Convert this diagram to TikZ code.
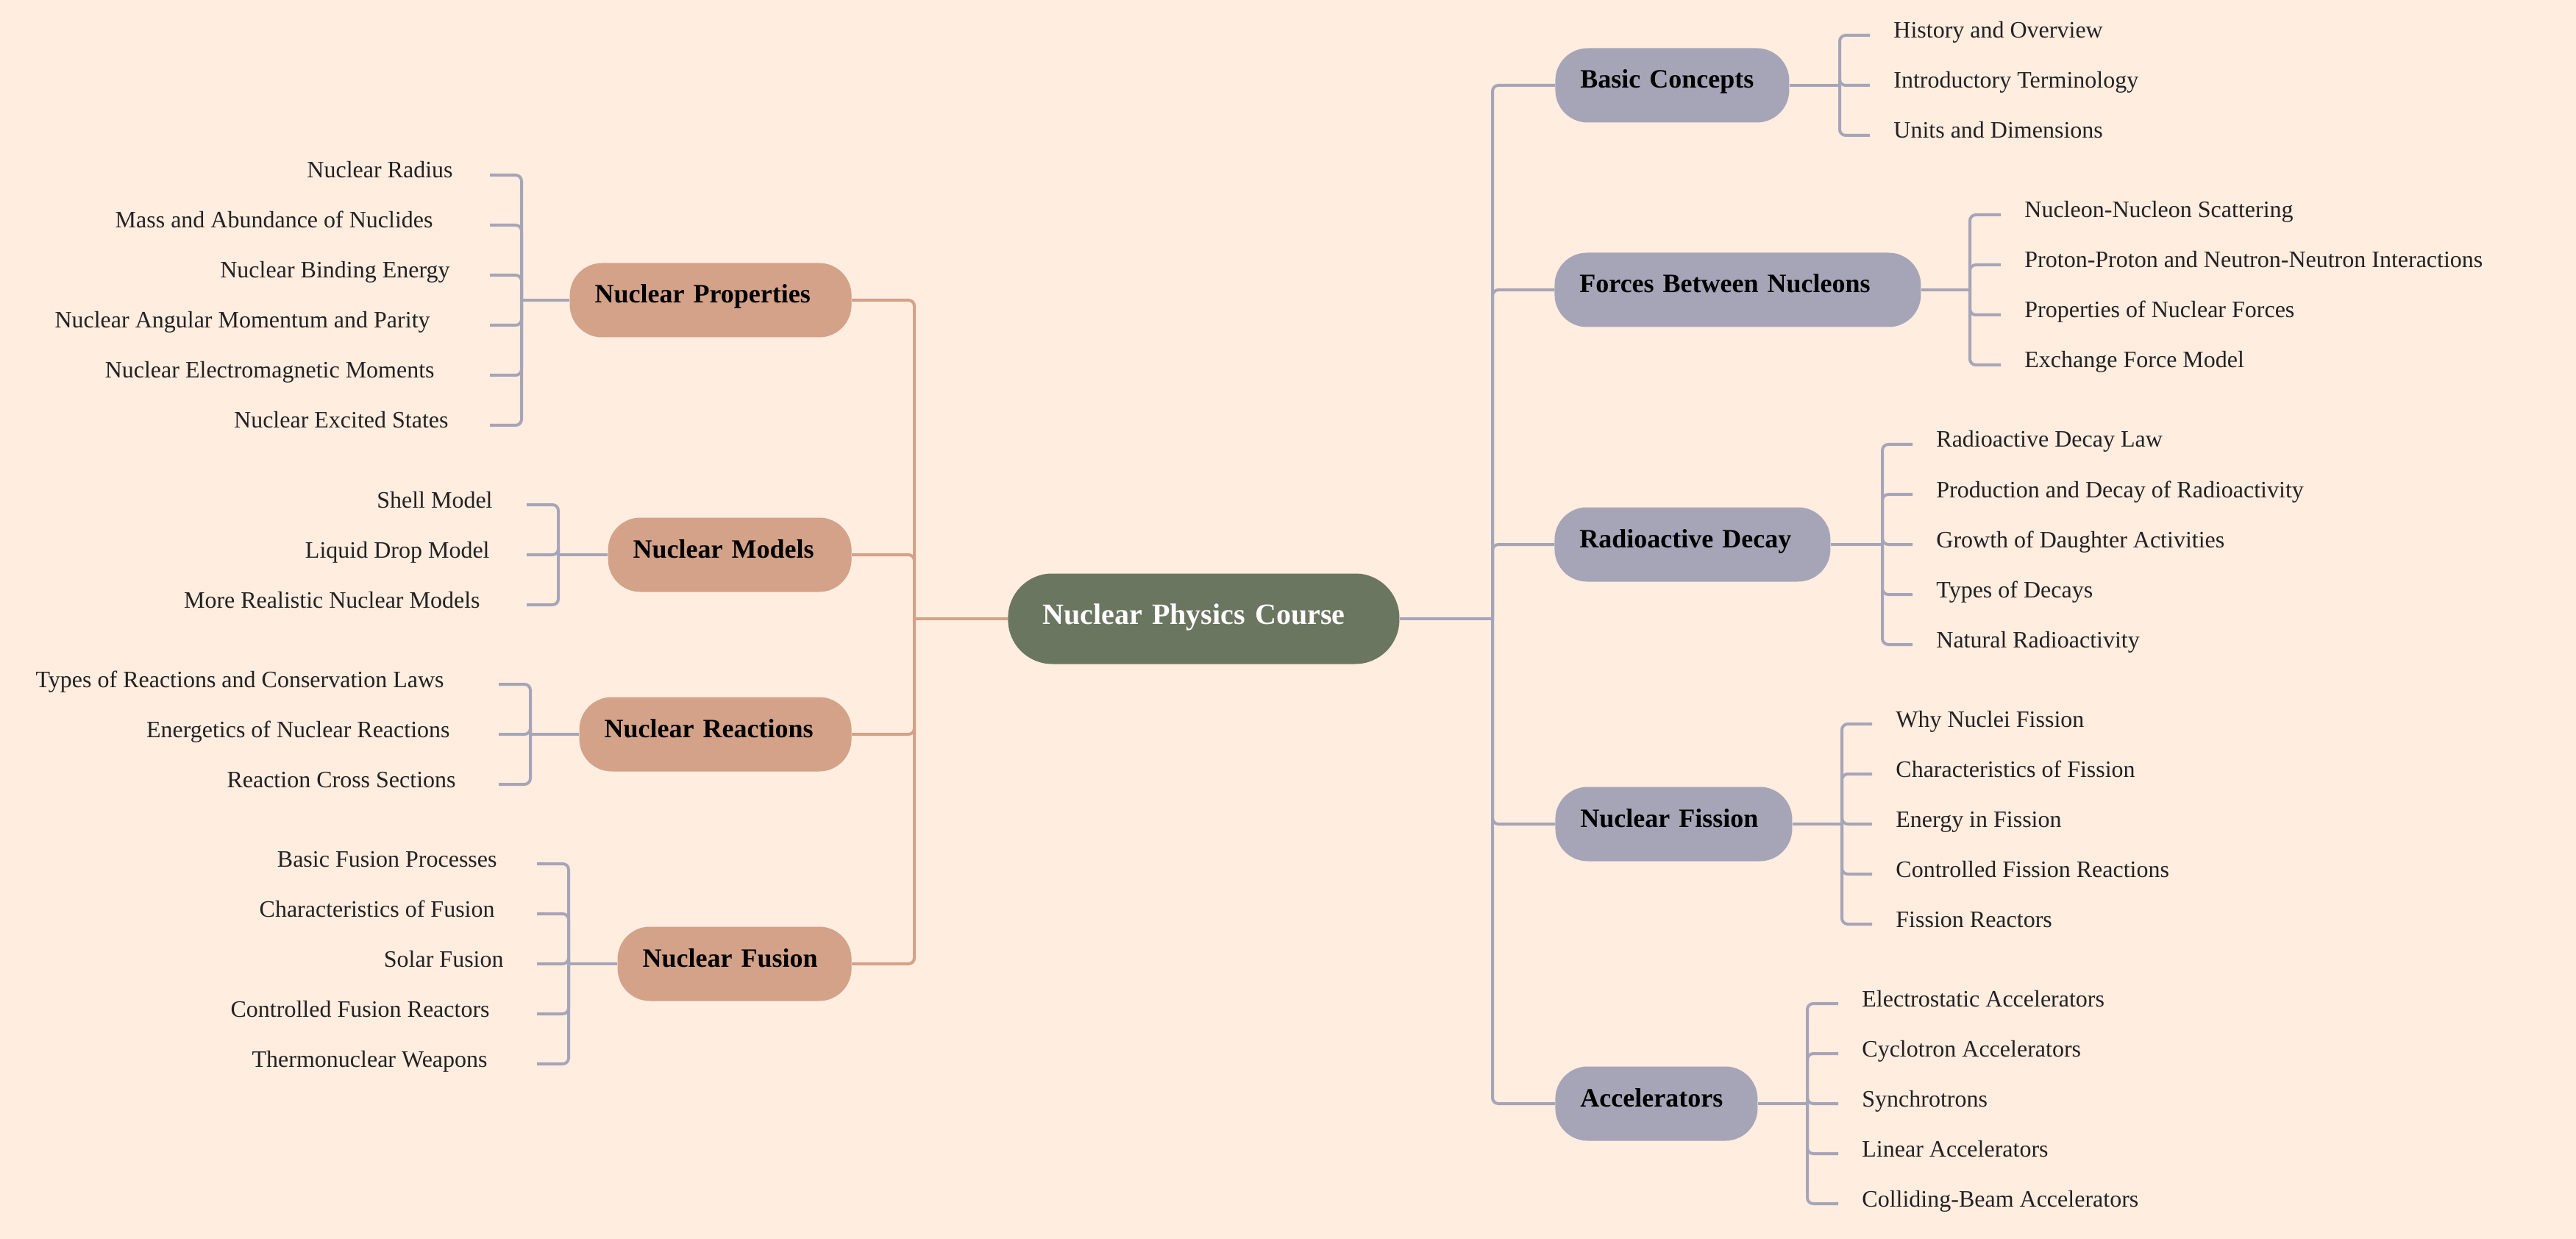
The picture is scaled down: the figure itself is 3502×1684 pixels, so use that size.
\documentclass[tikz,border=0pt]{standalone}
\usepackage{fontspec}
\setmainfont{Liberation Serif}
\definecolor{paper}{RGB}{255,237,224}
\definecolor{sage}{RGB}{107,118,96}
\definecolor{tan}{RGB}{211,162,137}
\definecolor{slate}{RGB}{166,165,184}
\definecolor{ink}{RGB}{34,34,34}
\tikzstyle{topic} = [rounded corners=22pt, minimum height=50.5pt, inner xsep=17pt, text height=12pt, text depth=8pt, align=left, font=\fontsize{18}{20}\selectfont\bfseries, text=black]

\begin{document}
\begin{tikzpicture}[x=0.5pt, y=-0.5pt,
			hub/.style = {fill=sage, text=white, rounded corners=30pt, minimum height=61.5pt, inner xsep=23.5pt, text width=219pt, text height=14pt, text depth=7pt, align=left, anchor=west, font=\fontsize{20}{22}\selectfont\bfseries},
			rbox/.style = {topic, fill=slate, anchor=west},
			lbox/.style = {topic, fill=tan, anchor=east},
			leaf/.style = {anchor=west, inner xsep=16pt, text height=10pt, text depth=6pt, text=ink, font=\fontsize{16}{18}\selectfont},
			lleaf/.style = {leaf, anchor=east, inner xsep=0pt},
			rline/.style = {draw=slate, line width=2pt, rounded corners=4pt},
			lline/.style = {draw=tan, line width=2pt, rounded corners=4pt},
			twig/.style = {draw=slate, line width=2pt, rounded corners=4pt}]
			\useasboundingbox (0,0) rectangle (3502,1684);
			\fill[paper] (0,0) rectangle (3502,1684);
			
			\node (npc)[hub] at (1370,841) {Nuclear Physics Course};
			\coordinate (rj) at (2029,841);
			\coordinate (lj) at (1243,841);
			
			\node (bc)[rbox, text width=125pt] at (2114,116) {Basic Concepts};
			\node (fbn)[rbox, text width=215pt] at (2113,394) {Forces Between Nucleons};
			\node (rd)[rbox, text width=153.5pt] at (2113,740) {Radioactive Decay};
			\node (nf)[rbox, text width=127pt] at (2114,1120) {Nuclear Fission};
			\node (acc)[rbox, text width=103.5pt] at (2114,1500) {Accelerators};
			
			\node (np)[lbox, text width=157.5pt] at (1158,408) {Nuclear Properties};
			\node (nm)[lbox, text width=131.5pt] at (1158,754) {Nuclear Models};
			\node (nr)[lbox, text width=151pt] at (1158,998) {Nuclear Reactions};
			\node (nu)[lbox, text width=125pt] at (1158,1310) {Nuclear Fusion};
			
			\draw[rline] (npc.east) -- (rj);
			\draw[lline] (npc.west) -- (lj);
			\draw[rline] (rj) |- (bc.west);
			\draw[rline] (rj) |- (fbn.west);
			\draw[rline] (rj) |- (rd.west);
			\draw[rline] (rj) |- (nf.west);
			\draw[rline] (rj) |- (acc.west);
			\draw[lline] (lj) |- (np.east);
			\draw[lline] (lj) |- (nm.east);
			\draw[lline] (lj) |- (nr.east);
			\draw[lline] (lj) |- (nu.east);
			
			\coordinate (bcj) at (2501,116);
			\node (bc1)[leaf] at (2542,48) {History and Overview};
			\node (bc2)[leaf] at (2542,116) {Introductory Terminology};
			\node (bc3)[leaf] at (2542,184) {Units and Dimensions};
			\draw[twig] (bc.east) -- (bcj);
			\draw[twig] (bcj) |- (bc1.west);
			\draw[twig] (bcj) |- (bc2.west);
			\draw[twig] (bcj) |- (bc3.west);
			
			\coordinate (fbnj) at (2678,394);
			\node (fbn1)[leaf] at (2720,292) {Nucleon-Nucleon Scattering};
			\node (fbn2)[leaf] at (2720,360) {Proton-Proton and Neutron-Neutron Interactions};
			\node (fbn3)[leaf] at (2720,428) {Properties of Nuclear Forces};
			\node (fbn4)[leaf] at (2720,496) {Exchange Force Model};
			\draw[twig] (fbn.east) -- (fbnj);
			\draw[twig] (fbnj) |- (fbn1.west);
			\draw[twig] (fbnj) |- (fbn2.west);
			\draw[twig] (fbnj) |- (fbn3.west);
			\draw[twig] (fbnj) |- (fbn4.west);
			
			\coordinate (rdj) at (2559,740);
			\node (rd1)[leaf] at (2600,604) {Radioactive Decay Law};
			\node (rd2)[leaf] at (2600,672) {Production and Decay of Radioactivity};
			\node (rd3)[leaf] at (2600,740) {Growth of Daughter Activities};
			\node (rd4)[leaf] at (2600,808) {Types of Decays};
			\node (rd5)[leaf] at (2600,876) {Natural Radioactivity};
			\draw[twig] (rd.east) -- (rdj);
			\draw[twig] (rdj) |- (rd1.west);
			\draw[twig] (rdj) |- (rd2.west);
			\draw[twig] (rdj) |- (rd3.west);
			\draw[twig] (rdj) |- (rd4.west);
			\draw[twig] (rdj) |- (rd5.west);
			
			\coordinate (nfj) at (2504,1120);
			\node (nf1)[leaf] at (2545,984) {Why Nuclei Fission};
			\node (nf2)[leaf] at (2545,1052) {Characteristics of Fission};
			\node (nf3)[leaf] at (2545,1120) {Energy in Fission};
			\node (nf4)[leaf] at (2545,1188) {Controlled Fission Reactions};
			\node (nf5)[leaf] at (2545,1256) {Fission Reactors};
			\draw[twig] (nf.east) -- (nfj);
			\draw[twig] (nfj) |- (nf1.west);
			\draw[twig] (nfj) |- (nf2.west);
			\draw[twig] (nfj) |- (nf3.west);
			\draw[twig] (nfj) |- (nf4.west);
			\draw[twig] (nfj) |- (nf5.west);
			
			\coordinate (accj) at (2457,1500);
			\node (acc1)[leaf] at (2499,1364) {Electrostatic Accelerators};
			\node (acc2)[leaf] at (2499,1432) {Cyclotron Accelerators};
			\node (acc3)[leaf] at (2499,1500) {Synchrotrons};
			\node (acc4)[leaf] at (2499,1568) {Linear Accelerators};
			\node (acc5)[leaf] at (2499,1636) {Colliding-Beam Accelerators};
			\draw[twig] (acc.east) -- (accj);
			\draw[twig] (accj) |- (acc1.west);
			\draw[twig] (accj) |- (acc2.west);
			\draw[twig] (accj) |- (acc3.west);
			\draw[twig] (accj) |- (acc4.west);
			\draw[twig] (accj) |- (acc5.west);
			
			\coordinate (npj) at (709,408);
			\coordinate (npx) at (666,408);
			\node (np1)[lleaf] at (616,238) {Nuclear Radius};
			\node (np2)[lleaf] at (589,306) {Mass and Abundance of Nuclides};
			\node (np3)[lleaf] at (612,374) {Nuclear Binding Energy};
			\node (np4)[lleaf] at (585,442) {Nuclear Angular Momentum and Parity};
			\node (np5)[lleaf] at (591,510) {Nuclear Electromagnetic Moments};
			\node (np6)[lleaf] at (610,578) {Nuclear Excited States};
			\draw[twig] (np.west) -- (npj);
			\draw[twig] (npj) |- (npx |- np1);
			\draw[twig] (npj) |- (npx |- np2);
			\draw[twig] (npj) |- (npx |- np3);
			\draw[twig] (npj) |- (npx |- np4);
			\draw[twig] (npj) |- (npx |- np5);
			\draw[twig] (npj) |- (npx |- np6);
			
			\coordinate (nmj) at (759,754);
			\coordinate (nmx) at (716,754);
			\node (nm1)[lleaf] at (670,686) {Shell Model};
			\node (nm2)[lleaf] at (666,754) {Liquid Drop Model};
			\node (nm3)[lleaf] at (653,822) {More Realistic Nuclear Models};
			\draw[twig] (nm.west) -- (nmj);
			\draw[twig] (nmj) |- (nmx |- nm1);
			\draw[twig] (nmj) |- (nmx |- nm2);
			\draw[twig] (nmj) |- (nmx |- nm3);
			
			\coordinate (nrj) at (721,998);
			\coordinate (nrx) at (678,998);
			\node (nr1)[lleaf] at (604,930) {Types of Reactions and Conservation Laws};
			\node (nr2)[lleaf] at (612,998) {Energetics of Nuclear Reactions};
			\node (nr3)[lleaf] at (620,1066) {Reaction Cross Sections};
			\draw[twig] (nr.west) -- (nrj);
			\draw[twig] (nrj) |- (nrx |- nr1);
			\draw[twig] (nrj) |- (nrx |- nr2);
			\draw[twig] (nrj) |- (nrx |- nr3);
			
			\coordinate (nuj) at (773,1310);
			\coordinate (nux) at (730,1310);
			\node (nu1)[lleaf] at (676,1174) {Basic Fusion Processes};
			\node (nu2)[lleaf] at (673,1242) {Characteristics of Fusion};
			\node (nu3)[lleaf] at (685,1310) {Solar Fusion};
			\node (nu4)[lleaf] at (666,1378) {Controlled Fusion Reactors};
			\node (nu5)[lleaf] at (663,1446) {Thermonuclear Weapons};
			\draw[twig] (nu.west) -- (nuj);
			\draw[twig] (nuj) |- (nux |- nu1);
			\draw[twig] (nuj) |- (nux |- nu2);
			\draw[twig] (nuj) |- (nux |- nu3);
			\draw[twig] (nuj) |- (nux |- nu4);
			\draw[twig] (nuj) |- (nux |- nu5);
		\end{tikzpicture}
\end{document}
